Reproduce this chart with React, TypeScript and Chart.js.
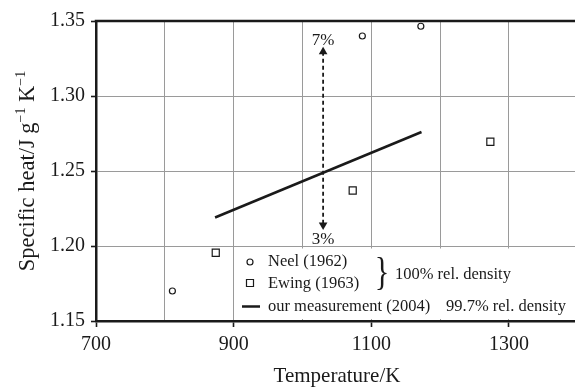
import React, { useEffect, useRef } from "react";
import { Chart, registerables } from "chart.js";

Chart.register(...registerables);

// ---- data ----
const neelTemp = [811, 1087, 1172];
const neelCp = [1.17, 1.34, 1.3465];
const ewingTemp = [874, 1073, 1273];
const ewingCp = [1.1955, 1.237, 1.2695];
const measTemp = [873, 1173];
const measCp = [1.219, 1.276];
const rangeTemp = [1030, 1030];
const rangeCp = [1.3295, 1.214];
const rangeLabels = ["7%", "3%"];
const rangeLabelCp = [1.3373, 1.2045];

const xTicks = [700, 800, 900, 1000, 1100, 1200, 1300];
const xLabels = ["700", "", "900", "", "1100", "", "1300"];
const yTicks = [1.15, 1.2, 1.25, 1.3, 1.35];
const yLabels = ["1.15", "1.20", "1.25", "1.30", "1.35"];

const legendLabels = ["Neel (1962)", "Ewing (1963)", "our measurement (2004)"];
const densityLabels = ["100% rel. density", "99.7% rel. density"];
const xTitle = "Temperature/K";
const yTitleParts = ["Specific heat/J g", "\u22121", " K", "\u22121"];

const SERIF = "'Liberation Serif', 'Times New Roman', serif";
const INK = "#1a1a1a";

const overlay = {
  id: "overlay",
  afterDraw(chart: any) {
    const ctx = chart.ctx as CanvasRenderingContext2D;
    const { left, right, top } = chart.chartArea;
    const xs = chart.scales.x;
    const ys = chart.scales.y;
    ctx.save();

    // top frame line
    ctx.strokeStyle = INK;
    ctx.lineWidth = 2.5;
    ctx.beginPath();
    ctx.moveTo(left - 1.25, top);
    ctx.lineTo(right, top);
    ctx.stroke();

    // range labels
    ctx.fillStyle = INK;
    ctx.font = `17px ${SERIF}`;
    ctx.textAlign = "center";
    ctx.textBaseline = "middle";
    rangeLabels.forEach((t, i) => {
      ctx.fillText(t, xs.getPixelForValue(rangeTemp[i]), ys.getPixelForValue(rangeLabelCp[i]));
    });

    // legend box
    ctx.fillStyle = "#fff";
    ctx.fillRect(237, 248.5, right - 237, 70.5);

    ctx.strokeStyle = INK;
    ctx.fillStyle = "#fff";
    ctx.lineWidth = 1.2;
    ctx.beginPath();
    ctx.arc(250, 262, 3, 0, Math.PI * 2);
    ctx.fill();
    ctx.stroke();
    ctx.beginPath();
    ctx.rect(246.5, 279.5, 7, 7);
    ctx.fill();
    ctx.stroke();
    ctx.lineWidth = 2.5;
    ctx.beginPath();
    ctx.moveTo(242, 306.5);
    ctx.lineTo(260, 306.5);
    ctx.stroke();

    ctx.fillStyle = INK;
    ctx.font = `16.5px ${SERIF}`;
    ctx.textAlign = "left";
    ctx.textBaseline = "middle";
    ctx.fillText(legendLabels[0], 268, 262);
    ctx.fillText(legendLabels[1], 268, 284);
    ctx.fillText(legendLabels[2], 268, 306.5);
    ctx.fillText(densityLabels[0], 395, 275);
    ctx.fillText(densityLabels[1], 446, 306.5);

    // brace, narrower and taller
    ctx.save();
    ctx.translate(382, 275);
    ctx.scale(0.8, 1.05);
    ctx.font = `38px ${SERIF}`;
    ctx.textAlign = "center";
    ctx.fillText("}", 0, 0);
    ctx.restore();

    // x title
    ctx.font = `21px ${SERIF}`;
    ctx.textAlign = "center";
    ctx.textBaseline = "middle";
    ctx.fillText(xTitle, 337, 376);

    // y title with superscripts
    const big = `22.5px ${SERIF}`;
    const small = `14px ${SERIF}`;
    const fonts = [big, small, big, small];
    const widths = yTitleParts.map((p, i) => {
      ctx.font = fonts[i];
      return ctx.measureText(p).width;
    });
    const total = widths.reduce((a, b) => a + b, 0);
    ctx.translate(34, 171);
    ctx.rotate(-Math.PI / 2);
    ctx.textAlign = "left";
    ctx.textBaseline = "alphabetic";
    let cx = -total / 2;
    yTitleParts.forEach((p, i) => {
      ctx.font = fonts[i];
      ctx.fillText(p, cx, i % 2 === 1 ? -9 : 0);
      cx += widths[i];
    });
    ctx.restore();
  },
};

export default function App() {
  const ref = useRef<HTMLCanvasElement | null>(null);

  useEffect(() => {
    if (!ref.current) return;
    const chart = new Chart(ref.current, {
      type: "scatter",
      data: {
        datasets: [
          {
            label: "Neel (1962)",
            data: neelTemp.map((t, i) => ({ x: t, y: neelCp[i] })),
            pointStyle: "circle",
            pointRadius: 3,
            backgroundColor: "#fff",
            borderColor: INK,
            borderWidth: 1.2,
          },
          {
            label: "Ewing (1963)",
            data: ewingTemp.map((t, i) => ({ x: t, y: ewingCp[i] })),
            pointStyle: "rect",
            pointRadius: 5,
            backgroundColor: "#fff",
            borderColor: INK,
            borderWidth: 1.2,
          },
          {
            label: "our measurement (2004)",
            data: measTemp.map((t, i) => ({ x: t, y: measCp[i] })),
            showLine: true,
            pointRadius: 0,
            borderColor: INK,
            borderWidth: 2.5,
          },
          {
            label: "range",
            data: rangeTemp.map((t, i) => ({ x: t, y: rangeCp[i] })),
            showLine: true,
            borderDash: [4, 3],
            borderColor: INK,
            borderWidth: 1.8,
            pointStyle: "triangle",
            pointRotation: [0, 180],
            pointRadius: 5,
            pointBorderWidth: 0,
            pointBackgroundColor: INK,
          } as any,
        ],
      },
      options: {
        animation: false,
        responsive: false,
        events: [],
        layout: { autoPadding: false, padding: { top: 21, left: 0, right: 0, bottom: 0 } },
        plugins: { legend: { display: false }, tooltip: { enabled: false } },
        scales: {
          x: {
            type: "linear",
            min: 700,
            max: 1396,
            afterBuildTicks: (s: any) => {
              s.ticks = xTicks.map((v) => ({ value: v }));
            },
            afterFit: (s: any) => {
              s.height = 67;
              s.paddingLeft = 0;
              s.paddingRight = 0;
            },
            ticks: {
              autoSkip: false,
              maxRotation: 0,
              padding: 6,
              color: INK,
              font: { family: SERIF, size: 20 },
              callback: (v: any) => xLabels[xTicks.indexOf(Number(v))] ?? "",
            },
            grid: {
              color: "#9a9a9a",
              lineWidth: 1,
              tickLength: 6,
              tickWidth: 1.6,
              tickColor: (c: any) =>
                xLabels[xTicks.indexOf(c.tick?.value)] ? INK : "rgba(0,0,0,0)",
            },
            border: { color: INK, width: 2.5 },
          },
          y: {
            type: "linear",
            min: 1.15,
            max: 1.35,
            afterBuildTicks: (s: any) => {
              s.ticks = yTicks.map((v) => ({ value: v }));
            },
            afterFit: (s: any) => {
              s.width = 96;
              s.paddingTop = 0;
              s.paddingBottom = 0;
            },
            ticks: {
              padding: 6,
              color: INK,
              font: { family: SERIF, size: 20 },
              callback: (v: any) => {
                const i = yTicks.findIndex((t) => Math.abs(t - Number(v)) < 1e-6);
                return i >= 0 ? yLabels[i] : "";
              },
            },
            grid: {
              color: "#9a9a9a",
              lineWidth: 1,
              tickLength: 5,
              tickWidth: 1.6,
              tickColor: INK,
            },
            border: { color: INK, width: 2.5 },
          },
        },
      },
      plugins: [overlay],
    });
    return () => chart.destroy();
  }, []);

  return (
    <div style={{ position: "fixed", left: 0, top: 0, width: 575, height: 388, background: "#fff" }}>
      <canvas ref={ref} width={575} height={388} style={{ display: "block" }} />
    </div>
  );
}
